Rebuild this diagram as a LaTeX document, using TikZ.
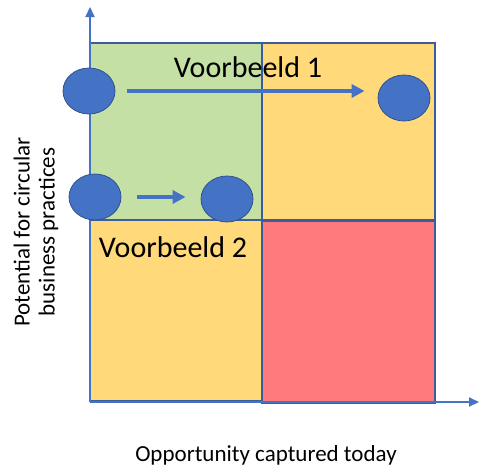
\documentclass[tikz,border=0pt]{standalone}
\usepackage{fontspec}
\setmainfont{Carlito}
\usetikzlibrary{arrows.meta,shapes.geometric}

\definecolor{quadgreen}{HTML}{C5E0A5}
\definecolor{quadyellow}{HTML}{FFD97A}
\definecolor{quadred}{HTML}{FF7A7C}
\definecolor{axisblue}{HTML}{4472C4}
\definecolor{frameblue}{HTML}{3B5D9C}
\definecolor{dotline}{HTML}{2F528F}

\tikzset{
  quad/.style = {draw=frameblue, line width=1.3pt},
  axis/.style = {draw=axisblue, line width=2pt, -{Triangle[length=10pt,width=9pt]}},
  dot/.style = {ellipse, fill=axisblue, draw=dotline, line width=0.8pt,
                minimum width=52pt, minimum height=46pt, inner sep=0pt},
  move/.style = {draw=axisblue, line width=3.5pt, -{Triangle[length=13pt,width=13pt]}},
  bigtext/.style = {font=\fontsize{30}{36}\selectfont, inner sep=0pt, anchor=base},
  axislabel/.style = {font=\fontsize{23}{25}\selectfont, inner sep=0pt}
}

\begin{document}
\begin{tikzpicture}[x=1pt,y=-1pt]
\useasboundingbox (0,0) rectangle (479,466);

% the four quadrants
\draw[quad, fill=quadgreen] (90,43) rectangle (262,220);
\draw[quad, fill=quadyellow] (262,43) rectangle (435,220);
\draw[quad, fill=quadyellow] (90,220) rectangle (262,401);
\draw[quad, fill=quadred] (262,221) rectangle (435,403);

% axes
\coordinate (origin) at (90,402);
\coordinate (ytip) at (90,7);
\coordinate (xtip) at (479,402);
\draw[axis] (origin) -- (ytip);
\draw[axis] (origin) -- (xtip);

% labels
\node[bigtext] (ex1) at (248,77) {Voorbeeld 1};
\node[bigtext] (ex2) at (173,257) {Voorbeeld 2};
\node[axislabel, anchor=base] (xlabel) at (266,461) {Opportunity captured today};
\node[axislabel, rotate=90, align=center] (ylabel) at (36,232) {Potential for circular\\business practices};

% examples
\node[dot] (start1) at (89,91) {};
\node[dot] (end1) at (404,98) {};
\node[dot] (start2) at (95,197) {};
\node[dot] (end2) at (227,199) {};

\draw[move, shorten <=12pt, shorten >=13pt] (start1.east) -- (start1.east -| end1.west);
\draw[move, shorten <=16pt, shorten >=15pt] (start2.east) -- (start2.east -| end2.west);
\end{tikzpicture}
\end{document}
